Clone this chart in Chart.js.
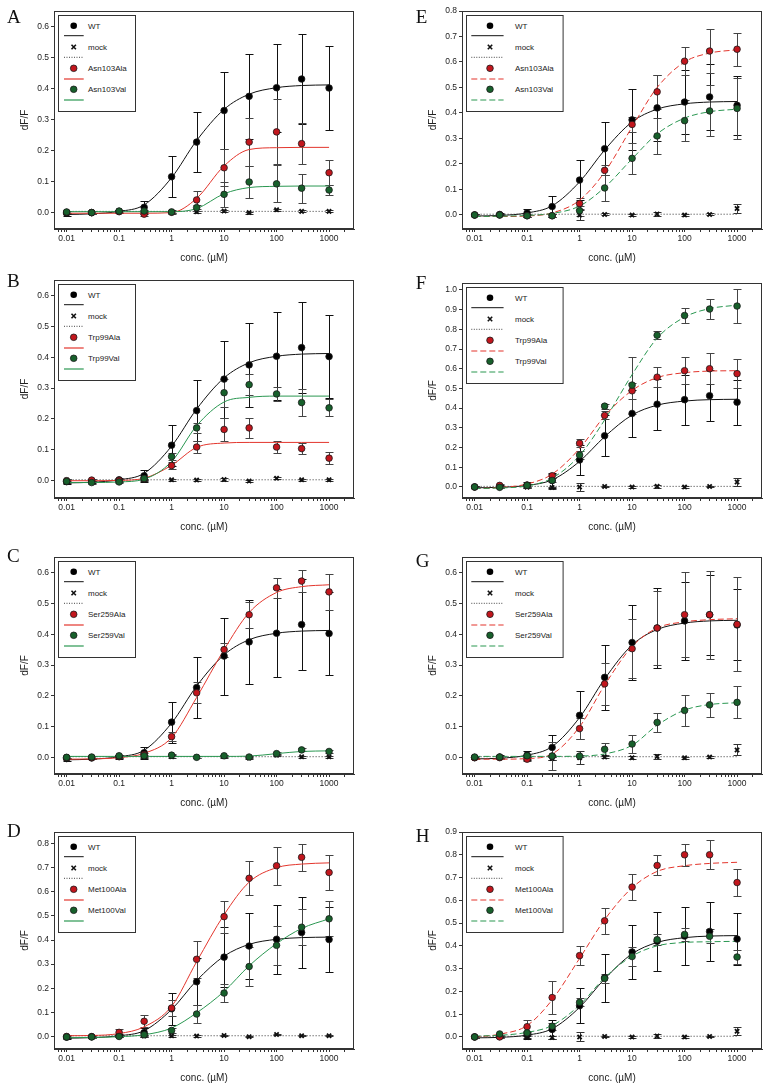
<!DOCTYPE html>
<html><head><meta charset="utf-8">
<script src="https://cdn.jsdelivr.net/npm/chart.js@4.4.1/dist/chart.umd.min.js"></script>
<style>
html,body{margin:0;padding:0;background:#fff;}
#wrap{position:relative;width:768px;height:1091px;overflow:hidden;background:#fff;}
#wrap canvas{position:absolute;}
#overlay{position:absolute;left:0;top:0;pointer-events:none;}
</style></head><body><div id="wrap"></div>
<script>
// ---------- DATA ----------
const conc = [0.01, 0.03, 0.1, 0.3, 1, 3, 10, 30, 100, 300, 1000];
const xTickLabels = ['0.01', '0.1', '1', '10', '100', '1000'];
const mockFitConc = [0.01, 1000];

// WT and mock, left column (A-D)
const wtL      = [-0.003, -0.001, 0.003, 0.016, 0.115, 0.227, 0.329, 0.375, 0.403, 0.431, 0.402];
const wtLErr   = [0.008, 0.005, 0.006, 0.02, 0.066, 0.098, 0.125, 0.137, 0.142, 0.147, 0.135];
const wtLFit   = [-0.007, -0.005, 0.003, 0.024, 0.112, 0.232, 0.333, 0.382, 0.403, 0.41, 0.412];
const mockL    = [0.002, 0.001, 0.002, 0.002, 0.003, 0.002, 0.004, -0.001, 0.008, 0.003, 0.003];
const mockLErr = [0.003, 0.003, 0.003, 0.003, 0.004, 0.003, 0.004, 0.003, 0.004, 0.003, 0.003];
const mockLFit = [0.003, 0.003];

// WT and mock, right column (E-H)
const wtR      = [0.0, 0.002, 0.008, 0.033, 0.137, 0.26, 0.373, 0.42, 0.443, 0.463, 0.43];
const wtRErr   = [0.005, 0.006, 0.015, 0.04, 0.078, 0.105, 0.12, 0.13, 0.127, 0.13, 0.115];
const wtRFit   = [-0.004, -0.002, 0.008, 0.036, 0.13, 0.255, 0.365, 0.415, 0.436, 0.443, 0.445];
const mockR    = [0.0, 0.001, -0.002, -0.003, 0.0, 0.002, 0.0, 0.004, 0.0, 0.002, 0.025];
const mockRErr = [0.003, 0.003, 0.004, 0.005, 0.02, 0.004, 0.004, 0.007, 0.003, 0.004, 0.018];
const mockRFit = [0.003, 0.003];

// A
const A_ala    = [0.0, -0.001, 0.002, -0.006, 0.0, 0.04, 0.144, 0.227, 0.26, 0.222, 0.128];
const A_alaErr = [0.004, 0.004, 0.004, 0.006, 0.005, 0.03, 0.06, 0.078, 0.105, 0.067, 0.04];
const A_alaFit = [-0.003, -0.003, -0.003, -0.003, -0.001, 0.045, 0.15, 0.203, 0.209, 0.21, 0.21];
const A_val    = [0.001, -0.001, 0.004, 0.004, 0.001, 0.015, 0.058, 0.098, 0.092, 0.078, 0.072];
const A_valErr = [0.004, 0.004, 0.004, 0.004, 0.004, 0.01, 0.04, 0.053, 0.06, 0.047, 0.015];
const A_valFit = [0.002, 0.002, 0.002, 0.002, 0.002, 0.012, 0.06, 0.08, 0.084, 0.085, 0.085];
// B
const B_ala    = [0.0, 0.002, 0.001, 0.006, 0.049, 0.109, 0.166, 0.171, 0.109, 0.104, 0.073];
const B_alaErr = [0.004, 0.004, 0.004, 0.005, 0.012, 0.02, 0.036, 0.032, 0.019, 0.017, 0.02];
const B_alaFit = [0.0, 0.0, 0.001, 0.008, 0.05, 0.108, 0.122, 0.124, 0.124, 0.124, 0.124];
const B_val    = [-0.002, -0.006, -0.004, 0.007, 0.078, 0.171, 0.285, 0.311, 0.281, 0.253, 0.236];
const B_valErr = [0.004, 0.004, 0.004, 0.006, 0.012, 0.015, 0.045, 0.035, 0.022, 0.045, 0.027];
const B_valFit = [-0.006, -0.006, -0.004, 0.005, 0.062, 0.178, 0.255, 0.27, 0.274, 0.274, 0.274];
// C
const C_ala    = [0.0, 0.0, 0.004, 0.01, 0.068, 0.21, 0.35, 0.463, 0.55, 0.572, 0.537];
const C_alaErr = [0.004, 0.004, 0.005, 0.006, 0.015, 0.034, 0.023, 0.042, 0.032, 0.037, 0.058];
const C_alaFit = [-0.005, -0.004, 0.0, 0.014, 0.065, 0.195, 0.35, 0.47, 0.535, 0.554, 0.56];
const C_val    = [0.001, 0.002, 0.006, 0.006, 0.008, 0.001, 0.006, 0.002, 0.013, 0.025, 0.02];
const C_valErr = [0.003, 0.003, 0.004, 0.003, 0.004, 0.003, 0.004, 0.003, 0.004, 0.005, 0.006];
const C_valFit = [0.004, 0.004, 0.004, 0.004, 0.004, 0.004, 0.004, 0.005, 0.013, 0.02, 0.022];
// D
const D_ala    = [0.0, -0.001, 0.017, 0.063, 0.118, 0.32, 0.497, 0.656, 0.708, 0.743, 0.68];
const D_alaErr = [0.005, 0.004, 0.015, 0.025, 0.035, 0.077, 0.066, 0.07, 0.079, 0.057, 0.072];
const D_alaFit = [0.003, 0.004, 0.012, 0.04, 0.125, 0.31, 0.505, 0.64, 0.7, 0.715, 0.72];
const D_val    = [-0.002, -0.002, 0.0, 0.007, 0.025, 0.093, 0.18, 0.29, 0.378, 0.453, 0.488];
const D_valErr = [0.004, 0.004, 0.004, 0.006, 0.01, 0.037, 0.038, 0.08, 0.08, 0.075, 0.072];
const D_valFit = [-0.005, -0.004, -0.001, 0.007, 0.035, 0.098, 0.187, 0.293, 0.385, 0.448, 0.488];
// E
const E_ala    = [0.0, 0.0, -0.003, -0.003, 0.045, 0.175, 0.355, 0.483, 0.603, 0.643, 0.65];
const E_alaErr = [0.004, 0.004, 0.004, 0.005, 0.02, 0.02, 0.03, 0.067, 0.055, 0.085, 0.064];
const E_alaFit = [-0.006, -0.006, -0.004, 0.008, 0.058, 0.168, 0.345, 0.5, 0.6, 0.635, 0.648];
const E_val    = [0.0, 0.0, -0.003, -0.003, 0.017, 0.106, 0.222, 0.31, 0.37, 0.408, 0.418];
const E_valErr = [0.004, 0.004, 0.004, 0.005, 0.02, 0.05, 0.06, 0.07, 0.08, 0.1, 0.12];
const E_valFit = [-0.006, -0.005, -0.002, 0.006, 0.035, 0.108, 0.22, 0.318, 0.38, 0.405, 0.415];
// F
const F_ala    = [0.0, 0.008, 0.01, 0.057, 0.222, 0.363, 0.488, 0.557, 0.59, 0.6, 0.575];
const F_alaErr = [0.004, 0.005, 0.006, 0.01, 0.02, 0.02, 0.04, 0.05, 0.068, 0.08, 0.072];
const F_alaFit = [-0.008, -0.003, 0.015, 0.065, 0.195, 0.36, 0.49, 0.555, 0.58, 0.588, 0.59];
const F_val    = [0.0, -0.002, 0.008, 0.033, 0.162, 0.41, 0.517, 0.77, 0.87, 0.903, 0.918];
const F_valErr = [0.004, 0.004, 0.006, 0.01, 0.02, 0.012, 0.145, 0.02, 0.038, 0.05, 0.087];
const F_valFit = [-0.008, -0.005, 0.005, 0.045, 0.16, 0.34, 0.57, 0.755, 0.862, 0.905, 0.923];
// G
const G_ala    = [0.0, 0.0, -0.005, 0.005, 0.094, 0.239, 0.353, 0.42, 0.463, 0.463, 0.432];
const G_alaErr = [0.004, 0.004, 0.006, 0.045, 0.034, 0.068, 0.095, 0.12, 0.137, 0.143, 0.152];
const G_alaFit = [-0.005, -0.005, -0.003, 0.012, 0.1, 0.235, 0.36, 0.42, 0.44, 0.447, 0.45];
const G_val    = [0.002, 0.002, 0.006, 0.005, 0.005, 0.027, 0.044, 0.114, 0.153, 0.171, 0.179];
const G_valErr = [0.003, 0.003, 0.004, 0.004, 0.004, 0.02, 0.03, 0.03, 0.05, 0.039, 0.052];
const G_valFit = [0.004, 0.004, 0.004, 0.004, 0.005, 0.012, 0.04, 0.105, 0.154, 0.172, 0.178];
// H
const H_ala    = [0.0, 0.0, 0.045, 0.173, 0.357, 0.51, 0.658, 0.753, 0.8, 0.8, 0.678];
const H_alaErr = [0.004, 0.005, 0.028, 0.073, 0.042, 0.057, 0.058, 0.044, 0.048, 0.063, 0.06];
const H_alaFit = [-0.001, 0.012, 0.05, 0.163, 0.345, 0.515, 0.655, 0.727, 0.752, 0.762, 0.767];
const H_val    = [0.0, 0.013, 0.018, 0.047, 0.152, 0.257, 0.353, 0.427, 0.45, 0.442, 0.351];
const H_valErr = [0.004, 0.005, 0.01, 0.015, 0.018, 0.02, 0.04, 0.025, 0.03, 0.03, 0.03];
const H_valFit = [0.004, 0.007, 0.02, 0.05, 0.14, 0.26, 0.355, 0.4, 0.415, 0.418, 0.42];

const mutantNames = {
  A: ['Asn103Ala', 'Asn103Val'], B: ['Trp99Ala', 'Trp99Val'],
  C: ['Ser259Ala', 'Ser259Val'], D: ['Met100Ala', 'Met100Val'],
  E: ['Asn103Ala', 'Asn103Val'], F: ['Trp99Ala', 'Trp99Val'],
  G: ['Ser259Ala', 'Ser259Val'], H: ['Met100Ala', 'Met100Val']
};
const yRanges = {
  A: [-0.054, 0.651], B: [-0.056, 0.650], C: [-0.053, 0.650], D: [-0.052, 0.848],
  E: [-0.055, 0.800], F: [-0.056, 1.035], G: [-0.053, 0.650], H: [-0.053, 0.900]
};
// y tick labels per panel (top tick value)
const yTickTop = {A: 0.6, B: 0.6, C: 0.6, D: 0.8, E: 0.8, F: 1.0, G: 0.6, H: 0.9};

// ---------- STYLE / LAYOUT ----------
const FONT = "'Liberation Sans', Arial, sans-serif";
const RED_FILL = '#c2161d', GREEN_FILL = '#17602b';
const RED_LINE = '#e3352c', GREEN_LINE = '#2a9751';
const X_MIN = 0.00575, X_MAX = 2985;
const layout = {
  A: {left: 54, top: 11, h: 218, letterX: 7, letterY: 22.7},
  B: {left: 54, top: 280, h: 218, letterX: 7, letterY: 287.3},
  C: {left: 54, top: 557, h: 217, letterX: 7, letterY: 562.3},
  D: {left: 54, top: 832, h: 217, letterX: 7, letterY: 836.7},
  E: {left: 462, top: 11, h: 218, letterX: 415.7, letterY: 22.7},
  F: {left: 462, top: 283, h: 215, letterX: 415.7, letterY: 289.3},
  G: {left: 462, top: 557, h: 217, letterX: 415.7, letterY: 567},
  H: {left: 462, top: 832, h: 217, letterX: 415.7, letterY: 841.7}
};

const panelData = {
  A: [A_ala, A_alaErr, A_alaFit, A_val, A_valErr, A_valFit],
  B: [B_ala, B_alaErr, B_alaFit, B_val, B_valErr, B_valFit],
  C: [C_ala, C_alaErr, C_alaFit, C_val, C_valErr, C_valFit],
  D: [D_ala, D_alaErr, D_alaFit, D_val, D_valErr, D_valFit],
  E: [E_ala, E_alaErr, E_alaFit, E_val, E_valErr, E_valFit],
  F: [F_ala, F_alaErr, F_alaFit, F_val, F_valErr, F_valFit],
  G: [G_ala, G_alaErr, G_alaFit, G_val, G_valErr, G_valFit],
  H: [H_ala, H_alaErr, H_alaFit, H_val, H_valErr, H_valFit]
};

Chart.defaults.font.family = FONT;
Chart.defaults.color = '#222';

const errorBarPlugin = {
  id: 'errorBars',
  beforeDatasetsDraw(chart) {
    const {ctx, scales: {x, y}} = chart;
    ctx.save();
    ctx.lineWidth = 1;
    chart.data.datasets.forEach(ds => {
      if (!ds.errorBars) return;
      ctx.strokeStyle = ds.errorColor;
      ds.data.forEach((p, i) => {
        const e = ds.errorBars[i];
        const px = Math.round(x.getPixelForValue(p.x)) + 0.5;
        const yt = Math.round(y.getPixelForValue(p.y + e)) + 0.5;
        const yb = Math.round(y.getPixelForValue(p.y - e)) + 0.5;
        ctx.beginPath();
        ctx.moveTo(px, yt); ctx.lineTo(px, yb);
        ctx.moveTo(px - 4, yt); ctx.lineTo(px + 4, yt);
        ctx.moveTo(px - 4, yb); ctx.lineTo(px + 4, yb);
        ctx.stroke();
      });
    });
    ctx.restore();
  }
};
const boxPlugin = {
  id: 'frameBox',
  afterDraw(chart) {
    const {ctx, chartArea: a} = chart;
    ctx.save();
    ctx.strokeStyle = '#333';
    ctx.lineWidth = 1;
    ctx.strokeRect(Math.round(a.left) + 0.5, Math.round(a.top) + 0.5,
      Math.round(a.right - a.left) - 1, Math.round(a.bottom - a.top) - 1);
    ctx.restore();
  }
};

const pts = (vals) => conc.map((c, i) => ({x: c, y: vals[i]}));
const fitPts = (xs, vals) => xs.map((c, i) => ({x: c, y: vals[i]}));

const wrap = document.getElementById('wrap');
let overlay = '';

Object.keys(layout).forEach(id => {
  const L = layout[id];
  const right = L.left > 300;
  const wt = right ? wtR : wtL, wtE = right ? wtRErr : wtLErr, wtF = right ? wtRFit : wtLFit;
  const mk = right ? mockR : mockL, mkE = right ? mockRErr : mockLErr, mkF = right ? mockRFit : mockLFit;
  const [ala, alaE, alaF, val, valE, valF] = panelData[id];
  const dash = right ? [6, 3] : [];

  const cv = document.createElement('canvas');
  const W = 360, H = L.h + 46;
  cv.width = W; cv.height = H;
  cv.style.width = W + 'px'; cv.style.height = H + 'px';
  cv.style.left = (L.left - 54) + 'px';
  cv.style.top = (L.top - 8) + 'px';
  wrap.appendChild(cv);

  const pointDs = (label, vals, errs, fill, ord, errColor) => ({
    type: 'scatter', label, data: pts(vals), errorBars: errs, errorColor: errColor,
    pointRadius: 3.3, pointBorderWidth: 0.8, pointBorderColor: '#1a1a1a',
    pointBackgroundColor: fill, showLine: false, order: ord
  });
  const fitDs = (label, xs, vals, color, d, ord) => ({
    type: 'line', label, data: fitPts(xs, vals), borderColor: color, borderWidth: 1,
    borderDash: d, pointRadius: 0, cubicInterpolationMode: 'monotone', fill: false, order: ord
  });

  const datasets = [
    fitDs('WT fit', conc, wtF, '#111', [], 14),
    fitDs('mock fit', mockFitConc, mkF, '#333', [1, 2], 13),
    fitDs(mutantNames[id][0] + ' fit', conc, alaF, RED_LINE, dash, 12),
    fitDs(mutantNames[id][1] + ' fit', conc, valF, GREEN_LINE, dash, 11),
    pointDs('WT', wt, wtE, '#000', 4, '#111'),
    {
      type: 'scatter', label: 'mock', data: pts(mk), errorBars: mkE, errorColor: '#333',
      pointStyle: 'crossRot', pointRadius: 3, pointBorderWidth: 1.8, pointBorderColor: '#111',
      showLine: false, order: 3
    },
    pointDs(mutantNames[id][0], ala, alaE, RED_FILL, 2, '#444'),
    pointDs(mutantNames[id][1], val, valE, GREEN_FILL, 1, '#444')
  ];

  new Chart(cv, {
    data: {datasets},
    options: {
      responsive: false, animation: false, events: [],
      layout: {padding: {top: 8, right: 6, left: 0, bottom: 0}},
      plugins: {legend: {display: false}, tooltip: {enabled: false}},
      scales: {
        x: {
          type: 'logarithmic', position: 'bottom', min: X_MIN, max: X_MAX,
          grid: {display: true, drawOnChartArea: false, drawTicks: true, tickLength: 3, tickColor: '#333', color: '#333'},
          border: {display: true, color: '#333'},
          ticks: {
            autoSkip: false, maxRotation: 0, minRotation: 0, padding: 2,
            font: {size: 8.5}, color: '#222',
            callback: (v) => {
              const l = Math.log10(v), r = Math.round(l);
              return (Math.abs(l - r) < 1e-6 && r >= -2 && r <= 3) ? xTickLabels[r + 2] : '';
            }
          },
          afterBuildTicks: (s) => {
            s.ticks = s.ticks.filter(t => {
              const e = Math.floor(Math.log10(t.value) + 1e-9);
              const sig = t.value / Math.pow(10, e);
              return Math.abs(sig - Math.round(sig)) < 1e-6;
            });
          },
          afterFit: (s) => { s.height = 38; },
          title: {display: true, text: 'conc. (µM)', font: {size: 10}, color: '#222', padding: {top: 0, bottom: 3}}
        },
        y: {
          type: 'linear', position: 'left', min: yRanges[id][0], max: yRanges[id][1],
          grid: {display: true, drawOnChartArea: false, drawTicks: true, tickLength: 3, tickColor: '#333', color: '#333'},
          border: {display: true, color: '#333'},
          ticks: {
            padding: 2, font: {size: 8.5}, color: '#222',
            callback: (v) => Math.abs(v) < 1e-9 ? '0.0' : Number(v).toFixed(1)
          },
          afterBuildTicks: (s) => {
            const t = [];
            const n = Math.round(yTickTop[id] * 10);
            for (let k = 0; k <= n; k++) t.push({value: k / 10});
            s.ticks = t;
          },
          afterFit: (s) => { s.width = 54; },
          title: {display: true, text: 'dF/F', font: {size: 10}, color: '#222', padding: {top: 19, bottom: 0}}
        }
      }
    },
    plugins: [errorBarPlugin, boxPlugin]
  });

  // letter + legend (overlay svg)
  overlay += `<text x="${L.letterX}" y="${L.letterY}" font-family="'Liberation Serif', 'Times New Roman', serif" font-size="19" fill="#111">${id}</text>`;
  const lx = L.left + 4, ly = L.top + 4;
  const w = right ? 96.6 : 77, h = 96;
  const mx = right ? 24 : 15.7, tx = right ? 49 : 30, l1 = right ? 5.3 : 6, l2 = right ? 37.6 : 25.7;
  const dashAttr = right ? ' stroke-dasharray="6,3"' : '';
  overlay += `<g transform="translate(${lx},${ly})" font-family="${FONT.replace(/"/g, '')}" font-size="8" fill="#222">
    <rect x="0.5" y="0.5" width="${w}" height="${h}" fill="#fff" stroke="#333" stroke-width="1"/>
    <circle cx="${mx}" cy="10.7" r="3.3" fill="#000"/>
    <text x="${tx}" y="13.5">WT</text>
    <line x1="${l1}" y1="20.7" x2="${l2}" y2="20.7" stroke="#111" stroke-width="1"/>
    <path d="M${mx - 2.2},29.8 L${mx + 2.2},34.2 M${mx - 2.2},34.2 L${mx + 2.2},29.8" stroke="#111" stroke-width="1.6"/>
    <text x="${tx}" y="34.8">mock</text>
    <line x1="${l1}" y1="42.3" x2="${l2}" y2="42.3" stroke="#444" stroke-width="1" stroke-dasharray="1,1.5"/>
    <circle cx="${mx}" cy="53.3" r="3.3" fill="${RED_FILL}" stroke="#1a1a1a" stroke-width="0.8"/>
    <text x="${tx}" y="56.1">${mutantNames[id][0]}</text>
    <line x1="${l1}" y1="64" x2="${l2}" y2="64" stroke="${RED_LINE}" stroke-width="1.2"${dashAttr}/>
    <circle cx="${mx}" cy="74.3" r="3.3" fill="${GREEN_FILL}" stroke="#1a1a1a" stroke-width="0.8"/>
    <text x="${tx}" y="77.1">${mutantNames[id][1]}</text>
    <line x1="${l1}" y1="85" x2="${l2}" y2="85" stroke="${GREEN_LINE}" stroke-width="1.2"${dashAttr}/>
  </g>`;
});

const svgNS = 'http://www.w3.org/2000/svg';
const holder = document.createElement('div');
holder.innerHTML = `<svg id="overlay" xmlns="${svgNS}" width="768" height="1091" viewBox="0 0 768 1091">${overlay}</svg>`;
wrap.appendChild(holder.firstChild);
</script></body></html>
